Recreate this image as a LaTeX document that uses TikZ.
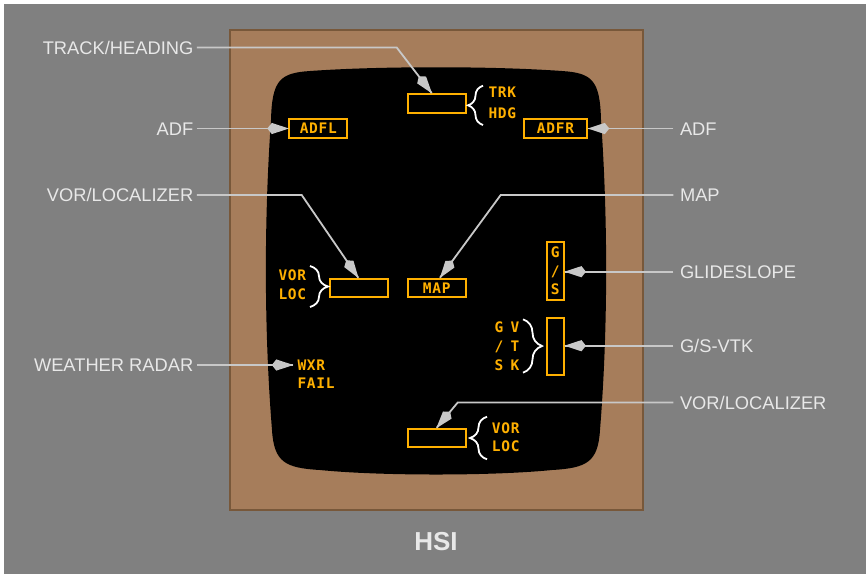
\documentclass[tikz,border=0pt]{standalone}
\usepackage{fontspec}
\setmainfont{Liberation Sans}
\newfontfamily\monofont[LetterSpace=5]{DejaVu Sans Mono}
\usetikzlibrary{calc,decorations.pathreplacing,decorations.markings}
\definecolor{bggray}{RGB}{128,128,128}
\definecolor{bezel}{RGB}{166,125,91}
\definecolor{bezeledge}{RGB}{120,88,58}
\definecolor{amber}{RGB}{255,176,0}
\definecolor{leadgray}{RGB}{200,200,200}
\definecolor{lbltext}{RGB}{232,232,232}
\begin{document}
\begin{tikzpicture}[x=1pt,y=-1pt,
  lbl/.style={text=lbltext,font=\fontsize{18.3}{20}\selectfont,inner sep=0pt,text height=13.1pt,text depth=0pt},
  lblL/.style={lbl,anchor=east,outer xsep=3.5pt},
  lblR/.style={lbl,anchor=west,outer xsep=6.7pt},
  lead/.style={draw=leadgray,line width=1.8pt,
    postaction={decorate,decoration={markings,
      mark=at position 1 with {\fill[leadgray] (0.6,0) -- (-16.5,5.6) -- (-21,0) -- (-16.5,-5.6) -- cycle;}}}},
  abox/.style={draw=amber,line width=2pt,inner sep=0pt,minimum width=58pt,minimum height=18.5pt},
  amb/.style={text=amber,font=\monofont\bfseries\fontsize{14.5}{16}\selectfont,inner sep=0pt,text height=10.6pt,text depth=0pt},
  curly/.style={decorate,decoration={brace,amplitude=#1},draw=white,line width=1.8pt}
]
\useasboundingbox (0,0) rectangle (866,574);
\fill[white] (0,0) rectangle (866,574);
\fill[bggray] (4,4) rectangle (866,574);
\filldraw[fill=bezel,draw=bezeledge,line width=2pt] (230,30) rectangle (643,510);
% screen
\fill[black] (310,71) .. controls (380,66) and (492,66) .. (562,71)
  .. controls (592,73) and (600,80) .. (601,120)
  .. controls (608,220) and (608,330) .. (600,430)
  .. controls (598,462) and (587,468) .. (552,470)
  .. controls (492,476) and (380,476) .. (320,470)
  .. controls (285,468) and (274,462) .. (272,430)
  .. controls (264,330) and (264,220) .. (271,120)
  .. controls (272,80) and (280,73) .. (310,71) -- cycle;

% boxes
\node[abox] (trkbox) at (436.7,103.3) {};
\node[abox] (adfl) at (318.3,128.5) {};
\node[abox,minimum width=63.6pt] (adfr) at (555.5,128.5) {};
\node[abox] (vorl) at (359.3,288) {};
\node[abox] (map) at (436.7,288) {};
\node[abox,minimum width=17.3pt,minimum height=58pt] (gs) at (555.3,270.7) {};
\node[abox,minimum width=17.3pt,minimum height=57.3pt] (gsvtk) at (555.3,346.3) {};
\node[abox] (vorb) at (436.7,438) {};

% amber texts
\node[amb] (adfltxt) at (adfl) {ADFL};
\node[amb] (adfrtxt) at (adfr) {ADFR};
\node[amb] (maptxt) at (map) {MAP};
\node[amb,anchor=west] (trk) at (488.3,92.5) {TRK};
\node[amb,anchor=west] (hdg) at (488.3,113) {HDG};
\node[amb,anchor=west] (vorltxt) at (278.3,275) {VOR};
\node[amb,anchor=west] (locltxt) at (278.3,293.8) {LOC};
\node[amb] (gsg) at (555.3,252) {G};
\node[amb] (gssl) at (555.3,270.7) {/};
\node[amb] (gss) at (555.3,288.7) {S};
\node[amb] (vg) at (499,327) {G};
\node[amb] (vsl) at (499,346.5) {/};
\node[amb] (vs) at (499,364.7) {S};
\node[amb] (vv) at (515,327) {V};
\node[amb] (vt) at (515,346.5) {T};
\node[amb] (vk) at (515,364.7) {K};
\node[amb,anchor=west] (wxr) at (297.3,365) {WXR};
\node[amb,anchor=west] (fail) at (297.3,383.3) {FAIL};
\node[amb,anchor=west] (vorbtxt) at (491.7,428) {VOR};
\node[amb,anchor=west] (locbtxt) at (491.7,446.3) {LOC};

% braces
\draw[curly=15pt] (483,125) -- (483,85.7);
\draw[curly=18pt] (310,266) -- (310,307);
\draw[curly=19pt] (523,319.3) -- (523,372.7);
\draw[curly=17pt] (487,459.3) -- (487,416.7);

% labels left
\node[lblL] (ltrack) at (196.8,47.5) {TRACK/HEADING};
\node[lblL] (ladf) at (196.8,128.5) {ADF};
\node[lblL] (lvor) at (196.8,195) {VOR/LOCALIZER};
\node[lblL] (lwxr) at (196.8,365) {WEATHER RADAR};
% labels right
\node[lblR] (radf) at (673.3,128.5) {ADF};
\node[lblR] (rmap) at (673.3,195) {MAP};
\node[lblR] (rgs) at (673.3,271.7) {GLIDESLOPE};
\node[lblR] (rvtk) at (673.3,345.7) {G/S-VTK};
\node[lblR] (rvor) at (673.3,402.5) {VOR/LOCALIZER};

% bend points
\coordinate (btrk) at (396.7,47.5);
\coordinate (bvor) at (301.7,195);
\coordinate (bmap) at (500.7,195);
\coordinate (bvorb) at (457.7,402.5);

% leaders
\draw[lead] (ltrack.east) -- (btrk) -- ($(trkbox.north)+(-5,0)$);
\draw[lead] (ladf.east) -- (adfl.west);
\draw[lead] (lvor.east) -- (bvor) -- ($(vorl.north)+(-1,0)$);
\draw[lead] (lwxr.east) -- ($(wxr.west)+(-4.5,0)$);
\draw[lead] (radf.west) -- (adfr.east);
\draw[lead] (rmap.west) -- (bmap) -- ($(map.north)+(3.3,0)$);
\draw[lead] (rgs.west) -- (gs.east |- rgs.west);
\draw[lead] (rvtk.west) -- (gsvtk.east |- rvtk.west);
\draw[lead] (rvor.west) -- (bvorb) -- (vorb.north);

% title
\node[text=lbltext,font=\bfseries\fontsize{26}{28}\selectfont,inner sep=0pt] (title) at (436,542) {HSI};
\end{tikzpicture}
\end{document}
